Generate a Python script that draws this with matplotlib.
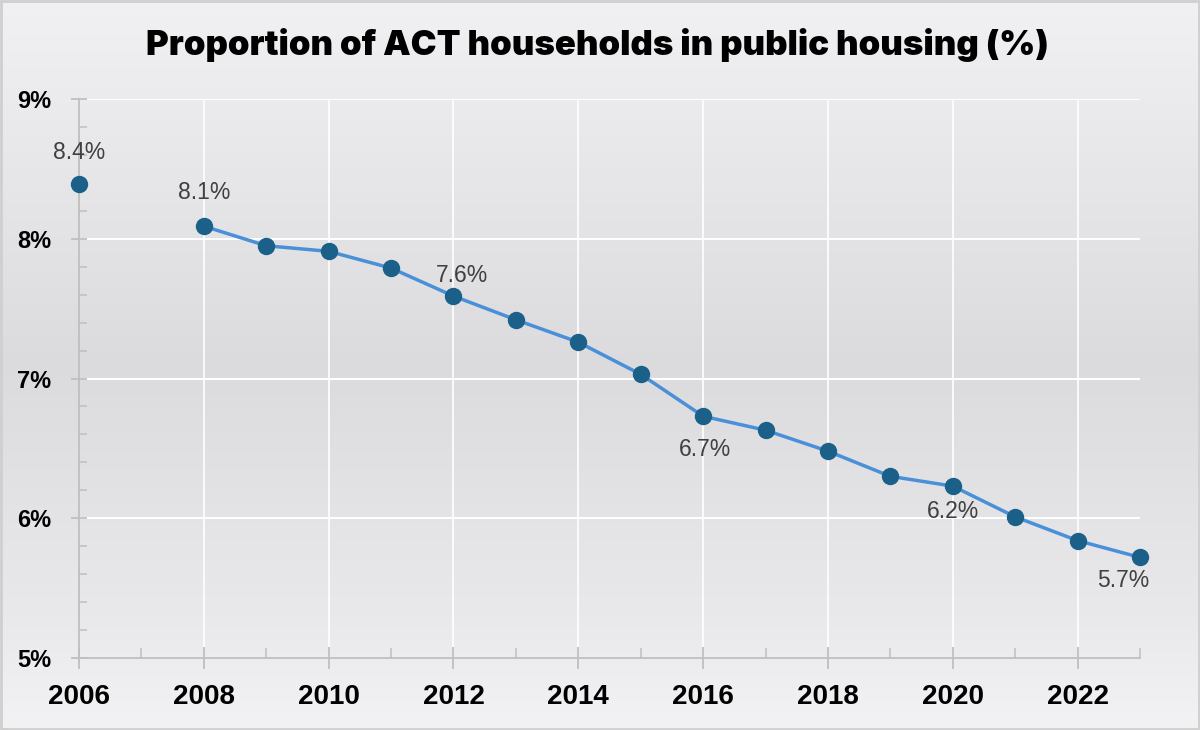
import numpy as np
import matplotlib
matplotlib.use("Agg")
import matplotlib.pyplot as plt
from matplotlib.ticker import MultipleLocator, FixedLocator

years = [2006, 2007, 2008, 2009, 2010, 2011, 2012, 2013, 2014, 2015,
         2016, 2017, 2018, 2019, 2020, 2021, 2022, 2023]
share = [8.39, np.nan, 8.09, 7.95, 7.91, 7.79, 7.59, 7.42, 7.26, 7.03,
         6.73, 6.63, 6.48, 6.30, 6.23, 6.01, 5.84, 5.72]
labelled = {2006: "8.4%", 2008: "8.1%", 2012: "7.6%", 2016: "6.7%", 2020: "6.2%", 2023: "5.7%"}
label_offsets = {2006: (0, 23), 2008: (0, 24), 2012: (6, 15), 2016: (1, -24), 2020: (0, -18), 2023: (-12, -16.5)}
y_ticks = [5, 6, 7, 8, 9]
x_ticks = [2006, 2008, 2010, 2012, 2014, 2016, 2018, 2020, 2022]
title = "Proportion of ACT households in public housing (%)"

fig = plt.figure(figsize=(12, 7.3), dpi=100)

# gradient background
bg = fig.add_axes([0, 0, 1, 1], zorder=-10)
t = np.linspace(0, 1, 400)
prof = np.interp(t, [0, 0.12, 0.5, 0.85, 1.0], [0.945, 0.925, 0.86, 0.915, 0.95])
img = np.repeat(prof[:, None], 2, axis=1)
bg.imshow(np.dstack([img, img, img * 1.012]).clip(0, 1), aspect="auto", extent=[0, 1, 0, 1], origin="upper")
bg.set_xlim(0, 1); bg.set_ylim(0, 1)
bg.axis("off")
bg.add_patch(plt.Rectangle((0.001, 0.001), 0.998, 0.997, fill=False, edgecolor="#cfcfcf", lw=2))

ax = fig.add_axes([79/1200, 1 - 658/730, (1140 - 79)/1200, (658 - 99)/730])
ax.patch.set_alpha(0)

ax.set_xlim(2006, 2023)
ax.set_ylim(5, 9)

for yv in y_ticks[1:]:
    ax.axhline(yv, color="white", lw=1.4, zorder=1)
for xv in x_ticks[1:]:
    ax.axvline(xv, color="white", lw=1.2, zorder=1)

ax.plot(years, share, color="#4a90d9", lw=2.5, zorder=3, clip_on=False)
ax.plot(years, share, "o", color="#1a6089", ms=11.5, zorder=4, clip_on=False)

for yr, txt in labelled.items():
    v = share[years.index(yr)]
    ax.annotate(txt, (yr, v), xytext=label_offsets[yr], textcoords="offset points",
                ha="center", va="center", fontsize=16.5, color="#404040",
                family="Liberation Sans")

for s in ["top", "right"]:
    ax.spines[s].set_visible(False)
for s in ["left", "bottom"]:
    ax.spines[s].set_color("#bfbfbf")
    ax.spines[s].set_linewidth(1.3)

ax.yaxis.set_major_locator(FixedLocator(y_ticks))
ax.yaxis.set_minor_locator(MultipleLocator(0.2))
ax.xaxis.set_major_locator(FixedLocator(x_ticks))
ax.xaxis.set_minor_locator(MultipleLocator(1))
ax.set_yticklabels([f"{v}%" for v in y_ticks])
ax.set_xticklabels([str(v) for v in x_ticks])

ax.tick_params(axis="y", which="major", direction="inout", length=12, color="#bfbfbf", width=1.3, pad=14)
ax.tick_params(axis="y", which="minor", direction="in", length=6, color="#bfbfbf", width=1.1)
ax.tick_params(axis="x", which="major", direction="inout", length=16, color="#bfbfbf", width=1.3, pad=11)
ax.tick_params(axis="x", which="minor", direction="in", length=7, color="#bfbfbf", width=1.1)

for lab in ax.get_yticklabels():
    lab.set_fontsize(17); lab.set_fontweight("bold"); lab.set_family("Liberation Sans")
for lab in ax.get_xticklabels():
    lab.set_fontsize(20); lab.set_fontweight("bold"); lab.set_family("Liberation Sans")

fig.text(0.498, 1 - 45/730, title, ha="center", va="center", fontsize=25,
         fontweight=900, family="Inter", color="black")

fig.savefig("out.png", dpi=100)
